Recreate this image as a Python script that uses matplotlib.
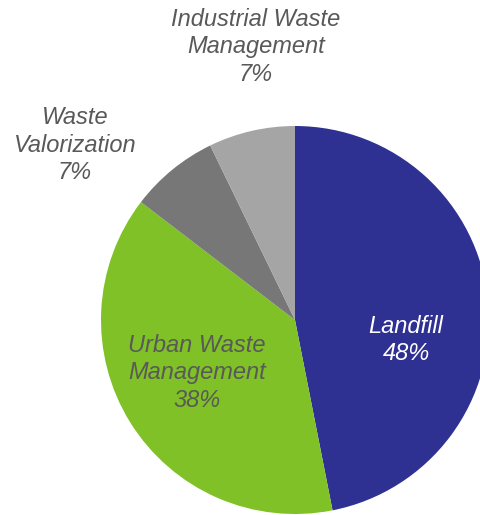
import matplotlib.pyplot as plt

# Data (wedge sizes, label text as printed)
categories = ['Landfill', 'Urban Waste\nManagement', 'Waste\nValorization', 'Industrial Waste\nManagement']
shares = [46.9, 38.5, 7.4, 7.2]
pct_labels = ['48%', '38%', '7%', '7%']
colors = ['#2E3192', '#7FC127', '#777777', '#A5A5A5']

plt.rcParams['font.family'] = ['Liberation Sans', 'DejaVu Sans']

fig = plt.figure(figsize=(4.8, 5.15), dpi=100)
ax = fig.add_axes([0, 0, 1, 1])

# pie in pixel space (y flipped, so go counter-clockwise to appear clockwise)
wedges, _ = ax.pie(shares, colors=colors, startangle=-90, counterclock=True,
                   center=(295, 320), radius=194, frame=True,
                   wedgeprops=dict(linewidth=0))
ax.set_xlim(0, 480)
ax.set_ylim(515, 0)
ax.set_aspect('equal')
ax.axis('off')

# label positions (centre of text block)
label_pos = [(406, 340), (197, 373), (75, 145), (256, 47)]
label_colors = ['white', '#595959', '#595959', '#595959']
for cat, pct, (x, y), c in zip(categories, pct_labels, label_pos, label_colors):
    ax.text(x, y, cat + '\n' + pct, ha='center', va='center', fontsize=17,
            style='italic', color=c, linespacing=1.25)

fig.savefig('out.png', dpi=100)
